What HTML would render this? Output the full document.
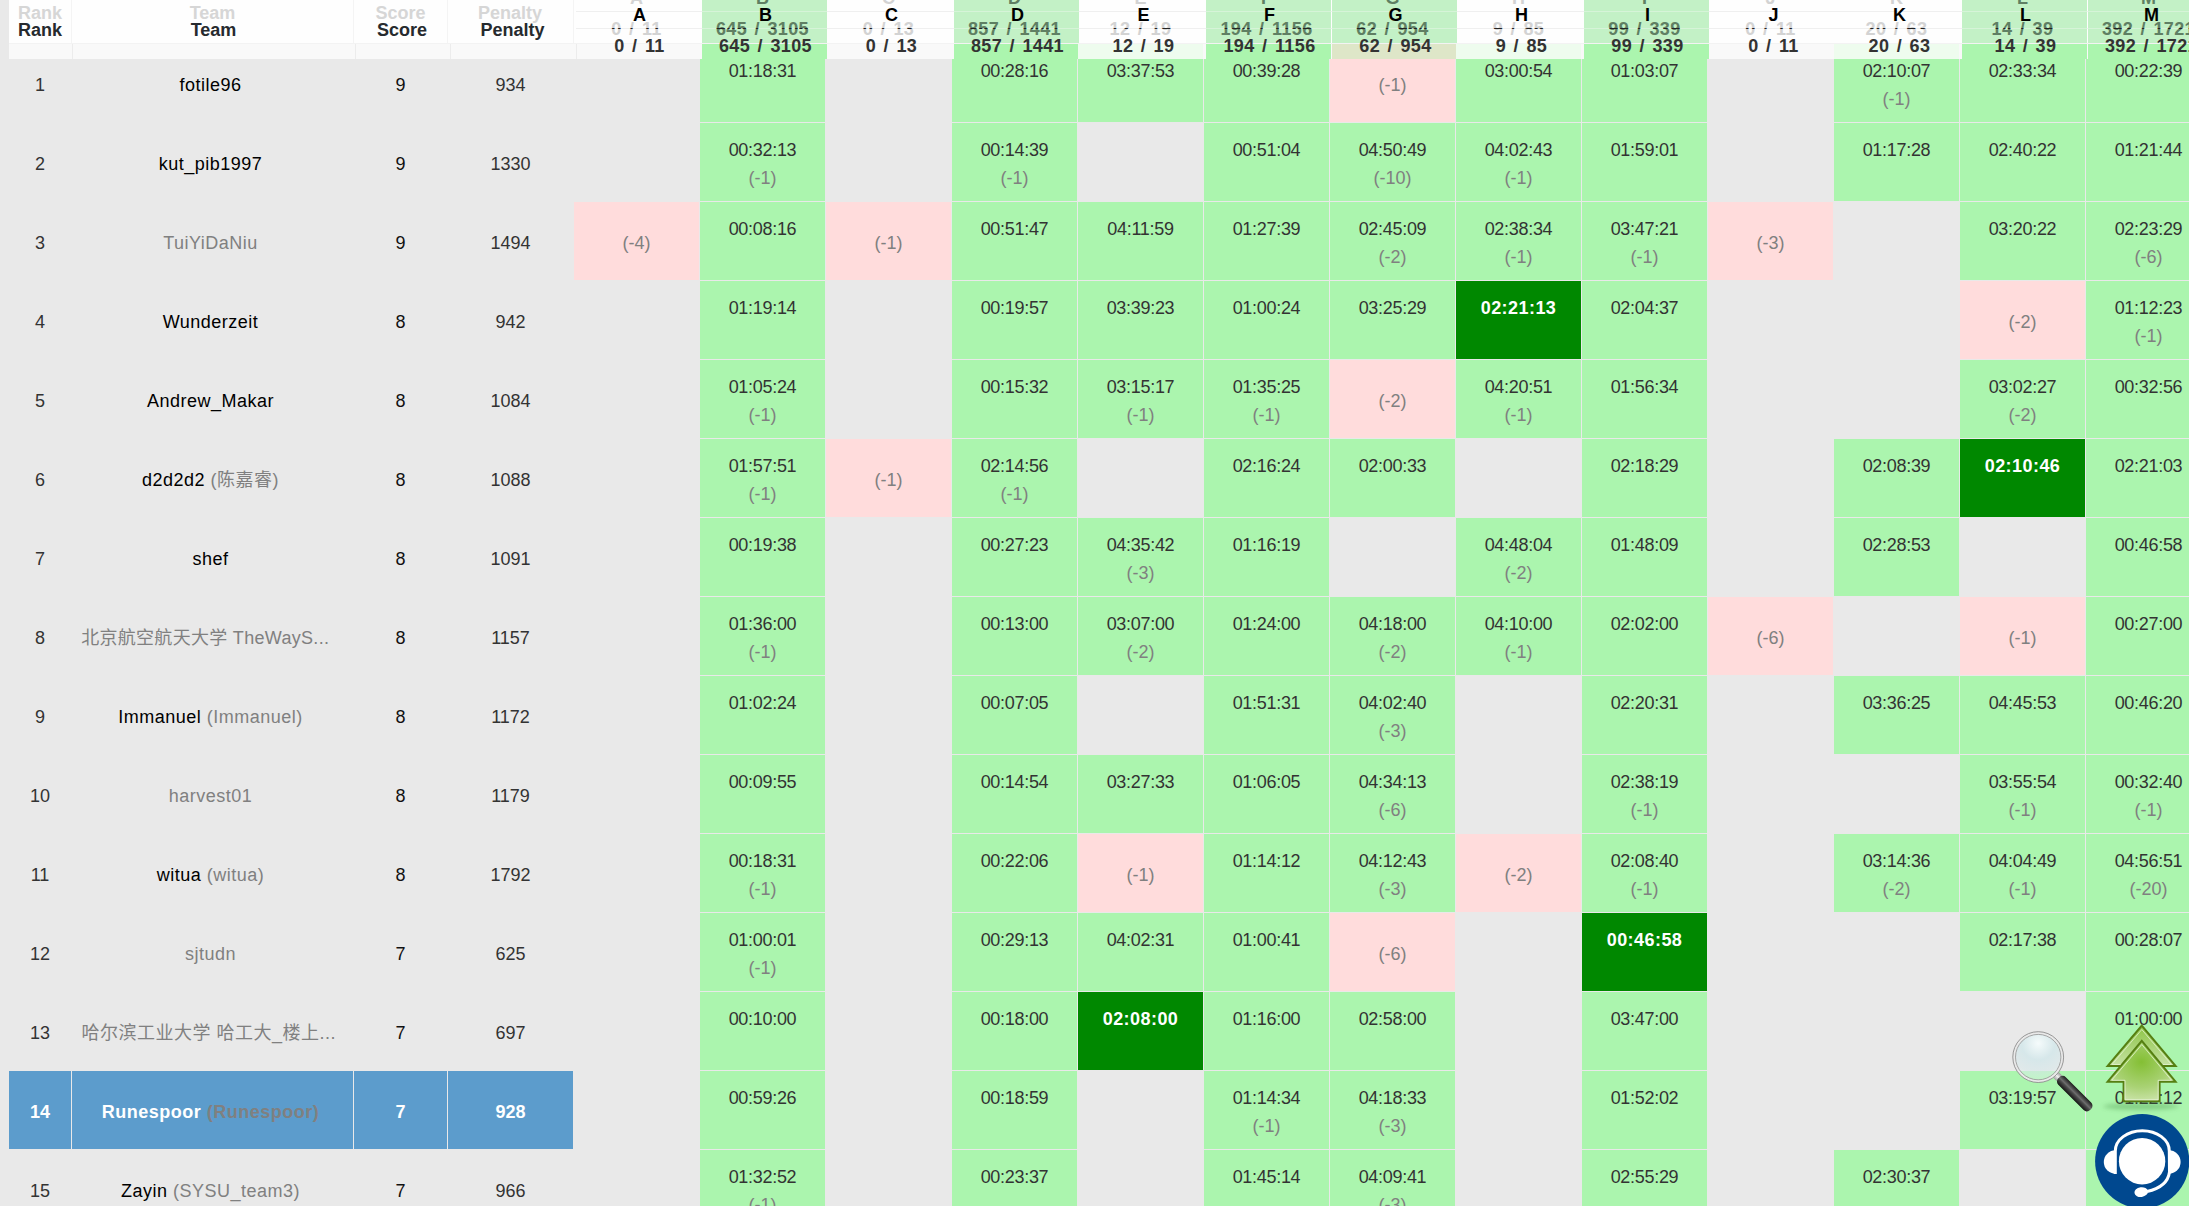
<!DOCTYPE html><html><head><meta charset="utf-8"><title>Rank</title><style>
*{box-sizing:border-box;margin:0;padding:0}
html,body{width:2189px;height:1206px;overflow:hidden}
body{position:relative;background:#e9e9e9;font-family:"Liberation Sans","Noto Sans CJK SC",sans-serif;font-size:18px;color:#212529}
.b{position:absolute}
.c{position:absolute;height:78px}
.t{position:absolute;left:0;right:0;text-align:center;white-space:nowrap;line-height:18px;height:18px}
.l1{top:18px;color:#333;letter-spacing:-0.3px}
.l2{top:46px;color:#808080}
.lc{top:32px;color:#808080}
.fb .l1{color:#fff;font-weight:bold;letter-spacing:0.45px}
.lm{top:32px}
.gr{color:#808080}
.hl .t{color:#fff;font-weight:bold}
.hl .gr{color:#808080}
.tm{letter-spacing:0.5px;margin-left:-4px}
.hc{word-spacing:2px;letter-spacing:0.4px}
.h{position:absolute;text-align:center;white-space:nowrap;font-weight:bold;line-height:18px;height:18px}
</style></head><body>
<div class="c" style="left:9px;top:44px;width:62px;"><div class="t lm" style="color:#333">1</div></div>
<div class="c" style="left:72px;top:44px;width:281px;"><div class="t lm tm" style="color:#000;">fotile96</div></div>
<div class="c" style="left:354px;top:44px;width:93px;"><div class="t lm" style="color:#111">9</div></div>
<div class="c" style="left:448px;top:44px;width:125px;"><div class="t lm" style="color:#333">934</div></div>
<div class="c " style="left:700px;top:44px;width:125px;background:#abf5ae"><div class="t l1">01:18:31</div></div>
<div class="c " style="left:952px;top:44px;width:125px;background:#abf5ae"><div class="t l1">00:28:16</div></div>
<div class="c " style="left:1078px;top:44px;width:125px;background:#abf5ae"><div class="t l1">03:37:53</div></div>
<div class="c " style="left:1204px;top:44px;width:125px;background:#abf5ae"><div class="t l1">00:39:28</div></div>
<div class="c" style="left:1330px;top:44px;width:125px;background:#ffdcdc"><div class="t lc">(-1)</div></div>
<div class="c " style="left:1456px;top:44px;width:125px;background:#abf5ae"><div class="t l1">03:00:54</div></div>
<div class="c " style="left:1582px;top:44px;width:125px;background:#abf5ae"><div class="t l1">01:03:07</div></div>
<div class="c " style="left:1834px;top:44px;width:125px;background:#abf5ae"><div class="t l1">02:10:07</div><div class="t l2">(-1)</div></div>
<div class="c " style="left:1960px;top:44px;width:125px;background:#abf5ae"><div class="t l1">02:33:34</div></div>
<div class="c " style="left:2086px;top:44px;width:125px;background:#abf5ae"><div class="t l1">00:22:39</div></div>
<div class="c" style="left:9px;top:123px;width:62px;"><div class="t lm" style="color:#333">2</div></div>
<div class="c" style="left:72px;top:123px;width:281px;"><div class="t lm tm" style="color:#000;">kut_pib1997</div></div>
<div class="c" style="left:354px;top:123px;width:93px;"><div class="t lm" style="color:#111">9</div></div>
<div class="c" style="left:448px;top:123px;width:125px;"><div class="t lm" style="color:#333">1330</div></div>
<div class="c " style="left:700px;top:123px;width:125px;background:#abf5ae"><div class="t l1">00:32:13</div><div class="t l2">(-1)</div></div>
<div class="c " style="left:952px;top:123px;width:125px;background:#abf5ae"><div class="t l1">00:14:39</div><div class="t l2">(-1)</div></div>
<div class="c " style="left:1204px;top:123px;width:125px;background:#abf5ae"><div class="t l1">00:51:04</div></div>
<div class="c " style="left:1330px;top:123px;width:125px;background:#abf5ae"><div class="t l1">04:50:49</div><div class="t l2">(-10)</div></div>
<div class="c " style="left:1456px;top:123px;width:125px;background:#abf5ae"><div class="t l1">04:02:43</div><div class="t l2">(-1)</div></div>
<div class="c " style="left:1582px;top:123px;width:125px;background:#abf5ae"><div class="t l1">01:59:01</div></div>
<div class="c " style="left:1834px;top:123px;width:125px;background:#abf5ae"><div class="t l1">01:17:28</div></div>
<div class="c " style="left:1960px;top:123px;width:125px;background:#abf5ae"><div class="t l1">02:40:22</div></div>
<div class="c " style="left:2086px;top:123px;width:125px;background:#abf5ae"><div class="t l1">01:21:44</div></div>
<div class="c" style="left:9px;top:202px;width:62px;"><div class="t lm" style="color:#333">3</div></div>
<div class="c" style="left:72px;top:202px;width:281px;"><div class="t lm tm" style="color:#000;"><span class="gr">TuiYiDaNiu</span></div></div>
<div class="c" style="left:354px;top:202px;width:93px;"><div class="t lm" style="color:#111">9</div></div>
<div class="c" style="left:448px;top:202px;width:125px;"><div class="t lm" style="color:#333">1494</div></div>
<div class="c" style="left:574px;top:202px;width:125px;background:#ffdcdc"><div class="t lc">(-4)</div></div>
<div class="c " style="left:700px;top:202px;width:125px;background:#abf5ae"><div class="t l1">00:08:16</div></div>
<div class="c" style="left:826px;top:202px;width:125px;background:#ffdcdc"><div class="t lc">(-1)</div></div>
<div class="c " style="left:952px;top:202px;width:125px;background:#abf5ae"><div class="t l1">00:51:47</div></div>
<div class="c " style="left:1078px;top:202px;width:125px;background:#abf5ae"><div class="t l1">04:11:59</div></div>
<div class="c " style="left:1204px;top:202px;width:125px;background:#abf5ae"><div class="t l1">01:27:39</div></div>
<div class="c " style="left:1330px;top:202px;width:125px;background:#abf5ae"><div class="t l1">02:45:09</div><div class="t l2">(-2)</div></div>
<div class="c " style="left:1456px;top:202px;width:125px;background:#abf5ae"><div class="t l1">02:38:34</div><div class="t l2">(-1)</div></div>
<div class="c " style="left:1582px;top:202px;width:125px;background:#abf5ae"><div class="t l1">03:47:21</div><div class="t l2">(-1)</div></div>
<div class="c" style="left:1708px;top:202px;width:125px;background:#ffdcdc"><div class="t lc">(-3)</div></div>
<div class="c " style="left:1960px;top:202px;width:125px;background:#abf5ae"><div class="t l1">03:20:22</div></div>
<div class="c " style="left:2086px;top:202px;width:125px;background:#abf5ae"><div class="t l1">02:23:29</div><div class="t l2">(-6)</div></div>
<div class="c" style="left:9px;top:281px;width:62px;"><div class="t lm" style="color:#333">4</div></div>
<div class="c" style="left:72px;top:281px;width:281px;"><div class="t lm tm" style="color:#000;">Wunderzeit</div></div>
<div class="c" style="left:354px;top:281px;width:93px;"><div class="t lm" style="color:#111">8</div></div>
<div class="c" style="left:448px;top:281px;width:125px;"><div class="t lm" style="color:#333">942</div></div>
<div class="c " style="left:700px;top:281px;width:125px;background:#abf5ae"><div class="t l1">01:19:14</div></div>
<div class="c " style="left:952px;top:281px;width:125px;background:#abf5ae"><div class="t l1">00:19:57</div></div>
<div class="c " style="left:1078px;top:281px;width:125px;background:#abf5ae"><div class="t l1">03:39:23</div></div>
<div class="c " style="left:1204px;top:281px;width:125px;background:#abf5ae"><div class="t l1">01:00:24</div></div>
<div class="c " style="left:1330px;top:281px;width:125px;background:#abf5ae"><div class="t l1">03:25:29</div></div>
<div class="c fb" style="left:1456px;top:281px;width:125px;background:#008800"><div class="t l1">02:21:13</div></div>
<div class="c " style="left:1582px;top:281px;width:125px;background:#abf5ae"><div class="t l1">02:04:37</div></div>
<div class="c" style="left:1960px;top:281px;width:125px;background:#ffdcdc"><div class="t lc">(-2)</div></div>
<div class="c " style="left:2086px;top:281px;width:125px;background:#abf5ae"><div class="t l1">01:12:23</div><div class="t l2">(-1)</div></div>
<div class="c" style="left:9px;top:360px;width:62px;"><div class="t lm" style="color:#333">5</div></div>
<div class="c" style="left:72px;top:360px;width:281px;"><div class="t lm tm" style="color:#000;">Andrew_Makar</div></div>
<div class="c" style="left:354px;top:360px;width:93px;"><div class="t lm" style="color:#111">8</div></div>
<div class="c" style="left:448px;top:360px;width:125px;"><div class="t lm" style="color:#333">1084</div></div>
<div class="c " style="left:700px;top:360px;width:125px;background:#abf5ae"><div class="t l1">01:05:24</div><div class="t l2">(-1)</div></div>
<div class="c " style="left:952px;top:360px;width:125px;background:#abf5ae"><div class="t l1">00:15:32</div></div>
<div class="c " style="left:1078px;top:360px;width:125px;background:#abf5ae"><div class="t l1">03:15:17</div><div class="t l2">(-1)</div></div>
<div class="c " style="left:1204px;top:360px;width:125px;background:#abf5ae"><div class="t l1">01:35:25</div><div class="t l2">(-1)</div></div>
<div class="c" style="left:1330px;top:360px;width:125px;background:#ffdcdc"><div class="t lc">(-2)</div></div>
<div class="c " style="left:1456px;top:360px;width:125px;background:#abf5ae"><div class="t l1">04:20:51</div><div class="t l2">(-1)</div></div>
<div class="c " style="left:1582px;top:360px;width:125px;background:#abf5ae"><div class="t l1">01:56:34</div></div>
<div class="c " style="left:1960px;top:360px;width:125px;background:#abf5ae"><div class="t l1">03:02:27</div><div class="t l2">(-2)</div></div>
<div class="c " style="left:2086px;top:360px;width:125px;background:#abf5ae"><div class="t l1">00:32:56</div></div>
<div class="c" style="left:9px;top:439px;width:62px;"><div class="t lm" style="color:#333">6</div></div>
<div class="c" style="left:72px;top:439px;width:281px;"><div class="t lm tm" style="color:#000;">d2d2d2 <span class="gr">(陈嘉睿)</span></div></div>
<div class="c" style="left:354px;top:439px;width:93px;"><div class="t lm" style="color:#111">8</div></div>
<div class="c" style="left:448px;top:439px;width:125px;"><div class="t lm" style="color:#333">1088</div></div>
<div class="c " style="left:700px;top:439px;width:125px;background:#abf5ae"><div class="t l1">01:57:51</div><div class="t l2">(-1)</div></div>
<div class="c" style="left:826px;top:439px;width:125px;background:#ffdcdc"><div class="t lc">(-1)</div></div>
<div class="c " style="left:952px;top:439px;width:125px;background:#abf5ae"><div class="t l1">02:14:56</div><div class="t l2">(-1)</div></div>
<div class="c " style="left:1204px;top:439px;width:125px;background:#abf5ae"><div class="t l1">02:16:24</div></div>
<div class="c " style="left:1330px;top:439px;width:125px;background:#abf5ae"><div class="t l1">02:00:33</div></div>
<div class="c " style="left:1582px;top:439px;width:125px;background:#abf5ae"><div class="t l1">02:18:29</div></div>
<div class="c " style="left:1834px;top:439px;width:125px;background:#abf5ae"><div class="t l1">02:08:39</div></div>
<div class="c fb" style="left:1960px;top:439px;width:125px;background:#008800"><div class="t l1">02:10:46</div></div>
<div class="c " style="left:2086px;top:439px;width:125px;background:#abf5ae"><div class="t l1">02:21:03</div></div>
<div class="c" style="left:9px;top:518px;width:62px;"><div class="t lm" style="color:#333">7</div></div>
<div class="c" style="left:72px;top:518px;width:281px;"><div class="t lm tm" style="color:#000;">shef</div></div>
<div class="c" style="left:354px;top:518px;width:93px;"><div class="t lm" style="color:#111">8</div></div>
<div class="c" style="left:448px;top:518px;width:125px;"><div class="t lm" style="color:#333">1091</div></div>
<div class="c " style="left:700px;top:518px;width:125px;background:#abf5ae"><div class="t l1">00:19:38</div></div>
<div class="c " style="left:952px;top:518px;width:125px;background:#abf5ae"><div class="t l1">00:27:23</div></div>
<div class="c " style="left:1078px;top:518px;width:125px;background:#abf5ae"><div class="t l1">04:35:42</div><div class="t l2">(-3)</div></div>
<div class="c " style="left:1204px;top:518px;width:125px;background:#abf5ae"><div class="t l1">01:16:19</div></div>
<div class="c " style="left:1456px;top:518px;width:125px;background:#abf5ae"><div class="t l1">04:48:04</div><div class="t l2">(-2)</div></div>
<div class="c " style="left:1582px;top:518px;width:125px;background:#abf5ae"><div class="t l1">01:48:09</div></div>
<div class="c " style="left:1834px;top:518px;width:125px;background:#abf5ae"><div class="t l1">02:28:53</div></div>
<div class="c " style="left:2086px;top:518px;width:125px;background:#abf5ae"><div class="t l1">00:46:58</div></div>
<div class="c" style="left:9px;top:597px;width:62px;"><div class="t lm" style="color:#333">8</div></div>
<div class="c" style="left:72px;top:597px;width:281px;"><div class="t lm tm" style="color:#000;letter-spacing:0.3px;margin-left:-14.6px;"><span class="gr">北京航空航天大学 TheWayS...</span></div></div>
<div class="c" style="left:354px;top:597px;width:93px;"><div class="t lm" style="color:#111">8</div></div>
<div class="c" style="left:448px;top:597px;width:125px;"><div class="t lm" style="color:#333">1157</div></div>
<div class="c " style="left:700px;top:597px;width:125px;background:#abf5ae"><div class="t l1">01:36:00</div><div class="t l2">(-1)</div></div>
<div class="c " style="left:952px;top:597px;width:125px;background:#abf5ae"><div class="t l1">00:13:00</div></div>
<div class="c " style="left:1078px;top:597px;width:125px;background:#abf5ae"><div class="t l1">03:07:00</div><div class="t l2">(-2)</div></div>
<div class="c " style="left:1204px;top:597px;width:125px;background:#abf5ae"><div class="t l1">01:24:00</div></div>
<div class="c " style="left:1330px;top:597px;width:125px;background:#abf5ae"><div class="t l1">04:18:00</div><div class="t l2">(-2)</div></div>
<div class="c " style="left:1456px;top:597px;width:125px;background:#abf5ae"><div class="t l1">04:10:00</div><div class="t l2">(-1)</div></div>
<div class="c " style="left:1582px;top:597px;width:125px;background:#abf5ae"><div class="t l1">02:02:00</div></div>
<div class="c" style="left:1708px;top:597px;width:125px;background:#ffdcdc"><div class="t lc">(-6)</div></div>
<div class="c" style="left:1960px;top:597px;width:125px;background:#ffdcdc"><div class="t lc">(-1)</div></div>
<div class="c " style="left:2086px;top:597px;width:125px;background:#abf5ae"><div class="t l1">00:27:00</div></div>
<div class="c" style="left:9px;top:676px;width:62px;"><div class="t lm" style="color:#333">9</div></div>
<div class="c" style="left:72px;top:676px;width:281px;"><div class="t lm tm" style="color:#000;">Immanuel <span class="gr">(Immanuel)</span></div></div>
<div class="c" style="left:354px;top:676px;width:93px;"><div class="t lm" style="color:#111">8</div></div>
<div class="c" style="left:448px;top:676px;width:125px;"><div class="t lm" style="color:#333">1172</div></div>
<div class="c " style="left:700px;top:676px;width:125px;background:#abf5ae"><div class="t l1">01:02:24</div></div>
<div class="c " style="left:952px;top:676px;width:125px;background:#abf5ae"><div class="t l1">00:07:05</div></div>
<div class="c " style="left:1204px;top:676px;width:125px;background:#abf5ae"><div class="t l1">01:51:31</div></div>
<div class="c " style="left:1330px;top:676px;width:125px;background:#abf5ae"><div class="t l1">04:02:40</div><div class="t l2">(-3)</div></div>
<div class="c " style="left:1582px;top:676px;width:125px;background:#abf5ae"><div class="t l1">02:20:31</div></div>
<div class="c " style="left:1834px;top:676px;width:125px;background:#abf5ae"><div class="t l1">03:36:25</div></div>
<div class="c " style="left:1960px;top:676px;width:125px;background:#abf5ae"><div class="t l1">04:45:53</div></div>
<div class="c " style="left:2086px;top:676px;width:125px;background:#abf5ae"><div class="t l1">00:46:20</div></div>
<div class="c" style="left:9px;top:755px;width:62px;"><div class="t lm" style="color:#333">10</div></div>
<div class="c" style="left:72px;top:755px;width:281px;"><div class="t lm tm" style="color:#000;"><span class="gr">harvest01</span></div></div>
<div class="c" style="left:354px;top:755px;width:93px;"><div class="t lm" style="color:#111">8</div></div>
<div class="c" style="left:448px;top:755px;width:125px;"><div class="t lm" style="color:#333">1179</div></div>
<div class="c " style="left:700px;top:755px;width:125px;background:#abf5ae"><div class="t l1">00:09:55</div></div>
<div class="c " style="left:952px;top:755px;width:125px;background:#abf5ae"><div class="t l1">00:14:54</div></div>
<div class="c " style="left:1078px;top:755px;width:125px;background:#abf5ae"><div class="t l1">03:27:33</div></div>
<div class="c " style="left:1204px;top:755px;width:125px;background:#abf5ae"><div class="t l1">01:06:05</div></div>
<div class="c " style="left:1330px;top:755px;width:125px;background:#abf5ae"><div class="t l1">04:34:13</div><div class="t l2">(-6)</div></div>
<div class="c " style="left:1582px;top:755px;width:125px;background:#abf5ae"><div class="t l1">02:38:19</div><div class="t l2">(-1)</div></div>
<div class="c " style="left:1960px;top:755px;width:125px;background:#abf5ae"><div class="t l1">03:55:54</div><div class="t l2">(-1)</div></div>
<div class="c " style="left:2086px;top:755px;width:125px;background:#abf5ae"><div class="t l1">00:32:40</div><div class="t l2">(-1)</div></div>
<div class="c" style="left:9px;top:834px;width:62px;"><div class="t lm" style="color:#333">11</div></div>
<div class="c" style="left:72px;top:834px;width:281px;"><div class="t lm tm" style="color:#000;">witua <span class="gr">(witua)</span></div></div>
<div class="c" style="left:354px;top:834px;width:93px;"><div class="t lm" style="color:#111">8</div></div>
<div class="c" style="left:448px;top:834px;width:125px;"><div class="t lm" style="color:#333">1792</div></div>
<div class="c " style="left:700px;top:834px;width:125px;background:#abf5ae"><div class="t l1">00:18:31</div><div class="t l2">(-1)</div></div>
<div class="c " style="left:952px;top:834px;width:125px;background:#abf5ae"><div class="t l1">00:22:06</div></div>
<div class="c" style="left:1078px;top:834px;width:125px;background:#ffdcdc"><div class="t lc">(-1)</div></div>
<div class="c " style="left:1204px;top:834px;width:125px;background:#abf5ae"><div class="t l1">01:14:12</div></div>
<div class="c " style="left:1330px;top:834px;width:125px;background:#abf5ae"><div class="t l1">04:12:43</div><div class="t l2">(-3)</div></div>
<div class="c" style="left:1456px;top:834px;width:125px;background:#ffdcdc"><div class="t lc">(-2)</div></div>
<div class="c " style="left:1582px;top:834px;width:125px;background:#abf5ae"><div class="t l1">02:08:40</div><div class="t l2">(-1)</div></div>
<div class="c " style="left:1834px;top:834px;width:125px;background:#abf5ae"><div class="t l1">03:14:36</div><div class="t l2">(-2)</div></div>
<div class="c " style="left:1960px;top:834px;width:125px;background:#abf5ae"><div class="t l1">04:04:49</div><div class="t l2">(-1)</div></div>
<div class="c " style="left:2086px;top:834px;width:125px;background:#abf5ae"><div class="t l1">04:56:51</div><div class="t l2">(-20)</div></div>
<div class="c" style="left:9px;top:913px;width:62px;"><div class="t lm" style="color:#333">12</div></div>
<div class="c" style="left:72px;top:913px;width:281px;"><div class="t lm tm" style="color:#000;"><span class="gr">sjtudn</span></div></div>
<div class="c" style="left:354px;top:913px;width:93px;"><div class="t lm" style="color:#111">7</div></div>
<div class="c" style="left:448px;top:913px;width:125px;"><div class="t lm" style="color:#333">625</div></div>
<div class="c " style="left:700px;top:913px;width:125px;background:#abf5ae"><div class="t l1">01:00:01</div><div class="t l2">(-1)</div></div>
<div class="c " style="left:952px;top:913px;width:125px;background:#abf5ae"><div class="t l1">00:29:13</div></div>
<div class="c " style="left:1078px;top:913px;width:125px;background:#abf5ae"><div class="t l1">04:02:31</div></div>
<div class="c " style="left:1204px;top:913px;width:125px;background:#abf5ae"><div class="t l1">01:00:41</div></div>
<div class="c" style="left:1330px;top:913px;width:125px;background:#ffdcdc"><div class="t lc">(-6)</div></div>
<div class="c fb" style="left:1582px;top:913px;width:125px;background:#008800"><div class="t l1">00:46:58</div></div>
<div class="c " style="left:1960px;top:913px;width:125px;background:#abf5ae"><div class="t l1">02:17:38</div></div>
<div class="c " style="left:2086px;top:913px;width:125px;background:#abf5ae"><div class="t l1">00:28:07</div></div>
<div class="c" style="left:9px;top:992px;width:62px;"><div class="t lm" style="color:#333">13</div></div>
<div class="c" style="left:72px;top:992px;width:281px;"><div class="t lm tm" style="color:#000;margin-left:-7.6px;"><span class="gr">哈尔滨工业大学 哈工大_楼上...</span></div></div>
<div class="c" style="left:354px;top:992px;width:93px;"><div class="t lm" style="color:#111">7</div></div>
<div class="c" style="left:448px;top:992px;width:125px;"><div class="t lm" style="color:#333">697</div></div>
<div class="c " style="left:700px;top:992px;width:125px;background:#abf5ae"><div class="t l1">00:10:00</div></div>
<div class="c " style="left:952px;top:992px;width:125px;background:#abf5ae"><div class="t l1">00:18:00</div></div>
<div class="c fb" style="left:1078px;top:992px;width:125px;background:#008800"><div class="t l1">02:08:00</div></div>
<div class="c " style="left:1204px;top:992px;width:125px;background:#abf5ae"><div class="t l1">01:16:00</div></div>
<div class="c " style="left:1330px;top:992px;width:125px;background:#abf5ae"><div class="t l1">02:58:00</div></div>
<div class="c " style="left:1582px;top:992px;width:125px;background:#abf5ae"><div class="t l1">03:47:00</div></div>
<div class="c " style="left:2086px;top:992px;width:125px;background:#abf5ae"><div class="t l1">01:00:00</div></div>
<div class="c hl" style="left:9px;top:1071px;width:62px;background:#5c9ccc;"><div class="t lm" style="color:#fff">14</div></div>
<div class="c hl" style="left:72px;top:1071px;width:281px;background:#5c9ccc;"><div class="t lm tm" style="color:#fff;">Runespoor <span class="gr">(Runespoor)</span></div></div>
<div class="c hl" style="left:354px;top:1071px;width:93px;background:#5c9ccc;"><div class="t lm" style="color:#fff">7</div></div>
<div class="c hl" style="left:448px;top:1071px;width:125px;background:#5c9ccc;"><div class="t lm" style="color:#fff">928</div></div>
<div class="c " style="left:700px;top:1071px;width:125px;background:#abf5ae"><div class="t l1">00:59:26</div></div>
<div class="c " style="left:952px;top:1071px;width:125px;background:#abf5ae"><div class="t l1">00:18:59</div></div>
<div class="c " style="left:1204px;top:1071px;width:125px;background:#abf5ae"><div class="t l1">01:14:34</div><div class="t l2">(-1)</div></div>
<div class="c " style="left:1330px;top:1071px;width:125px;background:#abf5ae"><div class="t l1">04:18:33</div><div class="t l2">(-3)</div></div>
<div class="c " style="left:1582px;top:1071px;width:125px;background:#abf5ae"><div class="t l1">01:52:02</div></div>
<div class="c " style="left:1960px;top:1071px;width:125px;background:#abf5ae"><div class="t l1">03:19:57</div></div>
<div class="c " style="left:2086px;top:1071px;width:125px;background:#abf5ae"><div class="t l1">01:22:12</div></div>
<div class="c" style="left:9px;top:1150px;width:62px;"><div class="t lm" style="color:#333">15</div></div>
<div class="c" style="left:72px;top:1150px;width:281px;"><div class="t lm tm" style="color:#000;">Zayin <span class="gr">(SYSU_team3)</span></div></div>
<div class="c" style="left:354px;top:1150px;width:93px;"><div class="t lm" style="color:#111">7</div></div>
<div class="c" style="left:448px;top:1150px;width:125px;"><div class="t lm" style="color:#333">966</div></div>
<div class="c " style="left:700px;top:1150px;width:125px;background:#abf5ae"><div class="t l1">01:32:52</div><div class="t l2">(-1)</div></div>
<div class="c " style="left:952px;top:1150px;width:125px;background:#abf5ae"><div class="t l1">00:23:37</div></div>
<div class="c " style="left:1204px;top:1150px;width:125px;background:#abf5ae"><div class="t l1">01:45:14</div></div>
<div class="c " style="left:1330px;top:1150px;width:125px;background:#abf5ae"><div class="t l1">04:09:41</div><div class="t l2">(-3)</div></div>
<div class="c " style="left:1582px;top:1150px;width:125px;background:#abf5ae"><div class="t l1">02:55:29</div></div>
<div class="c " style="left:1834px;top:1150px;width:125px;background:#abf5ae"><div class="t l1">02:30:37</div></div>
<div class="c " style="left:2086px;top:1150px;width:125px;background:#abf5ae"><div class="t l1">02:41:05</div></div>
<div class="b" style="left:9px;top:0;width:2180px;height:43px;background:#fefefe"></div>
<div class="b" style="left:702px;top:0;width:125px;height:43px;background:#c3f1c6"></div>
<div class="b" style="left:954px;top:0;width:125px;height:43px;background:#c3f1c6"></div>
<div class="b" style="left:1206px;top:0;width:125px;height:43px;background:#c3f1c6"></div>
<div class="b" style="left:1332px;top:0;width:125px;height:43px;background:#c3f1c6"></div>
<div class="b" style="left:1584px;top:0;width:125px;height:43px;background:#c3f1c6"></div>
<div class="b" style="left:1962px;top:0;width:125px;height:43px;background:#c3f1c6"></div>
<div class="b" style="left:2088px;top:0;width:125px;height:43px;background:#c3f1c6"></div>
<div class="b" style="left:9px;top:43px;width:2180px;height:1px;background:#f3f3f3"></div>
<div class="b" style="left:9px;top:44px;width:2180px;height:15px;background:#f9f9f9"></div>
<div class="b" style="left:702px;top:44px;width:125px;height:15px;background:#abf5ae"></div>
<div class="b" style="left:954px;top:44px;width:125px;height:15px;background:#abf5ae"></div>
<div class="b" style="left:1078px;top:44px;width:125px;height:15px;background:#eefcee"></div>
<div class="b" style="left:1206px;top:44px;width:125px;height:15px;background:#abf5ae"></div>
<div class="b" style="left:1332px;top:44px;width:125px;height:15px;background:#dee6c8"></div>
<div class="b" style="left:1456px;top:44px;width:125px;height:15px;background:#eefcee"></div>
<div class="b" style="left:1584px;top:44px;width:125px;height:15px;background:#abf5ae"></div>
<div class="b" style="left:1834px;top:44px;width:125px;height:15px;background:#eefcee"></div>
<div class="b" style="left:1962px;top:44px;width:125px;height:15px;background:#abf5ae"></div>
<div class="b" style="left:2088px;top:44px;width:125px;height:15px;background:#abf5ae"></div>
<div class="b" style="left:576px;top:11px;width:1613px;height:1px;background:#efefef"></div>
<div class="b" style="left:702px;top:11px;width:125px;height:1px;background:#d6f4d8"></div>
<div class="b" style="left:954px;top:11px;width:125px;height:1px;background:#d6f4d8"></div>
<div class="b" style="left:1206px;top:11px;width:125px;height:1px;background:#d6f4d8"></div>
<div class="b" style="left:1332px;top:11px;width:125px;height:1px;background:#d6f4d8"></div>
<div class="b" style="left:1584px;top:11px;width:125px;height:1px;background:#d6f4d8"></div>
<div class="b" style="left:1962px;top:11px;width:125px;height:1px;background:#d6f4d8"></div>
<div class="b" style="left:2088px;top:11px;width:125px;height:1px;background:#d6f4d8"></div>
<div class="b" style="left:576px;top:28px;width:1613px;height:1px;background:#efefef"></div>
<div class="b" style="left:702px;top:28px;width:125px;height:1px;background:#d6f4d8"></div>
<div class="b" style="left:954px;top:28px;width:125px;height:1px;background:#d6f4d8"></div>
<div class="b" style="left:1206px;top:28px;width:125px;height:1px;background:#d6f4d8"></div>
<div class="b" style="left:1332px;top:28px;width:125px;height:1px;background:#d6f4d8"></div>
<div class="b" style="left:1584px;top:28px;width:125px;height:1px;background:#d6f4d8"></div>
<div class="b" style="left:1962px;top:28px;width:125px;height:1px;background:#d6f4d8"></div>
<div class="b" style="left:2088px;top:28px;width:125px;height:1px;background:#d6f4d8"></div>
<div class="b" style="left:71px;top:0;width:1px;height:43px;background:#f4f4f4"></div>
<div class="b" style="left:353px;top:0;width:1px;height:43px;background:#f4f4f4"></div>
<div class="b" style="left:447px;top:0;width:1px;height:43px;background:#f4f4f4"></div>
<div class="b" style="left:573px;top:0;width:1px;height:43px;background:#f4f4f4"></div>
<div class="b" style="left:72px;top:44px;width:1px;height:15px;background:#ececec"></div>
<div class="b" style="left:355px;top:44px;width:1px;height:15px;background:#ececec"></div>
<div class="b" style="left:450px;top:44px;width:1px;height:15px;background:#ececec"></div>
<div class="b" style="left:576px;top:44px;width:1px;height:15px;background:#ececec"></div>
<div class="h " style="left:-60.0px;width:200px;top:4px;color:#d6d6d6;font-size:18px;font-weight:bold">Rank</div>
<div class="h " style="left:-60.0px;width:200px;top:21px;color:#262a2e;font-size:18px;font-weight:bold">Rank</div>
<div class="h " style="left:112.5px;width:200px;top:4px;color:#d6d6d6;font-size:18px;font-weight:bold">Team</div>
<div class="h " style="left:113.5px;width:200px;top:21px;color:#262a2e;font-size:18px;font-weight:bold">Team</div>
<div class="h " style="left:300.5px;width:200px;top:4px;color:#d6d6d6;font-size:18px;font-weight:bold">Score</div>
<div class="h " style="left:302.0px;width:200px;top:21px;color:#262a2e;font-size:18px;font-weight:bold">Score</div>
<div class="h " style="left:410.0px;width:200px;top:4px;color:#d6d6d6;font-size:18px;font-weight:bold">Penalty</div>
<div class="h " style="left:412.5px;width:200px;top:21px;color:#262a2e;font-size:18px;font-weight:bold">Penalty</div>
<div class="h " style="left:536.5px;width:200px;top:-11px;color:#d3d3d3;font-size:18px;font-weight:bold">A</div>
<div class="h hc" style="left:536.5px;width:200px;top:20px;color:#d3d3d3;font-size:18px;font-weight:bold">0 / 11</div>
<div class="h " style="left:662.5px;width:200px;top:-11px;color:#5f7f63;font-size:18px;font-weight:bold">B</div>
<div class="h hc" style="left:662.5px;width:200px;top:20px;color:#5f7f63;font-size:18px;font-weight:bold">645 / 3105</div>
<div class="h " style="left:788.5px;width:200px;top:-11px;color:#d3d3d3;font-size:18px;font-weight:bold">C</div>
<div class="h hc" style="left:788.5px;width:200px;top:20px;color:#d3d3d3;font-size:18px;font-weight:bold">0 / 13</div>
<div class="h " style="left:914.5px;width:200px;top:-11px;color:#5f7f63;font-size:18px;font-weight:bold">D</div>
<div class="h hc" style="left:914.5px;width:200px;top:20px;color:#5f7f63;font-size:18px;font-weight:bold">857 / 1441</div>
<div class="h " style="left:1040.5px;width:200px;top:-11px;color:#d3d3d3;font-size:18px;font-weight:bold">E</div>
<div class="h hc" style="left:1040.5px;width:200px;top:20px;color:#d3d3d3;font-size:18px;font-weight:bold">12 / 19</div>
<div class="h " style="left:1166.5px;width:200px;top:-11px;color:#5f7f63;font-size:18px;font-weight:bold">F</div>
<div class="h hc" style="left:1166.5px;width:200px;top:20px;color:#5f7f63;font-size:18px;font-weight:bold">194 / 1156</div>
<div class="h " style="left:1292.5px;width:200px;top:-11px;color:#5f7f63;font-size:18px;font-weight:bold">G</div>
<div class="h hc" style="left:1292.5px;width:200px;top:20px;color:#5f7f63;font-size:18px;font-weight:bold">62 / 954</div>
<div class="h " style="left:1418.5px;width:200px;top:-11px;color:#d3d3d3;font-size:18px;font-weight:bold">H</div>
<div class="h hc" style="left:1418.5px;width:200px;top:20px;color:#d3d3d3;font-size:18px;font-weight:bold">9 / 85</div>
<div class="h " style="left:1544.5px;width:200px;top:-11px;color:#5f7f63;font-size:18px;font-weight:bold">I</div>
<div class="h hc" style="left:1544.5px;width:200px;top:20px;color:#5f7f63;font-size:18px;font-weight:bold">99 / 339</div>
<div class="h " style="left:1670.5px;width:200px;top:-11px;color:#d3d3d3;font-size:18px;font-weight:bold">J</div>
<div class="h hc" style="left:1670.5px;width:200px;top:20px;color:#d3d3d3;font-size:18px;font-weight:bold">0 / 11</div>
<div class="h " style="left:1796.5px;width:200px;top:-11px;color:#d3d3d3;font-size:18px;font-weight:bold">K</div>
<div class="h hc" style="left:1796.5px;width:200px;top:20px;color:#d3d3d3;font-size:18px;font-weight:bold">20 / 63</div>
<div class="h " style="left:1922.5px;width:200px;top:-11px;color:#5f7f63;font-size:18px;font-weight:bold">L</div>
<div class="h hc" style="left:1922.5px;width:200px;top:20px;color:#5f7f63;font-size:18px;font-weight:bold">14 / 39</div>
<div class="h " style="left:2048.5px;width:200px;top:-11px;color:#5f7f63;font-size:18px;font-weight:bold">M</div>
<div class="h hc" style="left:2048.5px;width:200px;top:20px;color:#5f7f63;font-size:18px;font-weight:bold">392 / 1721</div>
<div class="b" style="left:0;top:28px;width:2189px;height:1px;overflow:hidden">
<div class="h hc" style="left:536.5px;width:200px;top:-8px;color:#222;font-size:18px">0 / 11</div>
<div class="h hc" style="left:662.5px;width:200px;top:-8px;color:#222;font-size:18px">645 / 3105</div>
<div class="h hc" style="left:788.5px;width:200px;top:-8px;color:#222;font-size:18px">0 / 13</div>
<div class="h hc" style="left:914.5px;width:200px;top:-8px;color:#222;font-size:18px">857 / 1441</div>
<div class="h hc" style="left:1040.5px;width:200px;top:-8px;color:#222;font-size:18px">12 / 19</div>
<div class="h hc" style="left:1166.5px;width:200px;top:-8px;color:#222;font-size:18px">194 / 1156</div>
<div class="h hc" style="left:1292.5px;width:200px;top:-8px;color:#222;font-size:18px">62 / 954</div>
<div class="h hc" style="left:1418.5px;width:200px;top:-8px;color:#222;font-size:18px">9 / 85</div>
<div class="h hc" style="left:1544.5px;width:200px;top:-8px;color:#222;font-size:18px">99 / 339</div>
<div class="h hc" style="left:1670.5px;width:200px;top:-8px;color:#222;font-size:18px">0 / 11</div>
<div class="h hc" style="left:1796.5px;width:200px;top:-8px;color:#222;font-size:18px">20 / 63</div>
<div class="h hc" style="left:1922.5px;width:200px;top:-8px;color:#222;font-size:18px">14 / 39</div>
<div class="h hc" style="left:2048.5px;width:200px;top:-8px;color:#222;font-size:18px">392 / 1721</div>
</div>
<div class="h " style="left:539.5px;width:200px;top:6px;color:#000;font-size:18px;font-weight:bold">A</div>
<div class="h hc" style="left:539.5px;width:200px;top:37px;color:#333;font-size:18px;font-weight:bold">0 / 11</div>
<div class="h " style="left:665.5px;width:200px;top:6px;color:#000;font-size:18px;font-weight:bold">B</div>
<div class="h hc" style="left:665.5px;width:200px;top:37px;color:#333;font-size:18px;font-weight:bold">645 / 3105</div>
<div class="h " style="left:791.5px;width:200px;top:6px;color:#000;font-size:18px;font-weight:bold">C</div>
<div class="h hc" style="left:791.5px;width:200px;top:37px;color:#333;font-size:18px;font-weight:bold">0 / 13</div>
<div class="h " style="left:917.5px;width:200px;top:6px;color:#000;font-size:18px;font-weight:bold">D</div>
<div class="h hc" style="left:917.5px;width:200px;top:37px;color:#333;font-size:18px;font-weight:bold">857 / 1441</div>
<div class="h " style="left:1043.5px;width:200px;top:6px;color:#000;font-size:18px;font-weight:bold">E</div>
<div class="h hc" style="left:1043.5px;width:200px;top:37px;color:#333;font-size:18px;font-weight:bold">12 / 19</div>
<div class="h " style="left:1169.5px;width:200px;top:6px;color:#000;font-size:18px;font-weight:bold">F</div>
<div class="h hc" style="left:1169.5px;width:200px;top:37px;color:#333;font-size:18px;font-weight:bold">194 / 1156</div>
<div class="h " style="left:1295.5px;width:200px;top:6px;color:#000;font-size:18px;font-weight:bold">G</div>
<div class="h hc" style="left:1295.5px;width:200px;top:37px;color:#333;font-size:18px;font-weight:bold">62 / 954</div>
<div class="h " style="left:1421.5px;width:200px;top:6px;color:#000;font-size:18px;font-weight:bold">H</div>
<div class="h hc" style="left:1421.5px;width:200px;top:37px;color:#333;font-size:18px;font-weight:bold">9 / 85</div>
<div class="h " style="left:1547.5px;width:200px;top:6px;color:#000;font-size:18px;font-weight:bold">I</div>
<div class="h hc" style="left:1547.5px;width:200px;top:37px;color:#333;font-size:18px;font-weight:bold">99 / 339</div>
<div class="h " style="left:1673.5px;width:200px;top:6px;color:#000;font-size:18px;font-weight:bold">J</div>
<div class="h hc" style="left:1673.5px;width:200px;top:37px;color:#333;font-size:18px;font-weight:bold">0 / 11</div>
<div class="h " style="left:1799.5px;width:200px;top:6px;color:#000;font-size:18px;font-weight:bold">K</div>
<div class="h hc" style="left:1799.5px;width:200px;top:37px;color:#333;font-size:18px;font-weight:bold">20 / 63</div>
<div class="h " style="left:1925.5px;width:200px;top:6px;color:#000;font-size:18px;font-weight:bold">L</div>
<div class="h hc" style="left:1925.5px;width:200px;top:37px;color:#333;font-size:18px;font-weight:bold">14 / 39</div>
<div class="h " style="left:2051.5px;width:200px;top:6px;color:#000;font-size:18px;font-weight:bold">M</div>
<div class="h hc" style="left:2051.5px;width:200px;top:37px;color:#333;font-size:18px;font-weight:bold">392 / 1721</div>

<svg class="b" style="left:2000px;top:1015px" width="189" height="191" viewBox="2000 1015 189 191">
<defs>
<radialGradient id="gl" cx="0.5" cy="0.2" r="0.8">
<stop offset="0" stop-color="#f6fcfc" stop-opacity="0.97"/>
<stop offset="0.45" stop-color="#d4e7ea" stop-opacity="0.9"/>
<stop offset="0.8" stop-color="#d8e8ea" stop-opacity="0.6"/>
<stop offset="1" stop-color="#e6f2f2" stop-opacity="0.35"/>
</radialGradient>
<linearGradient id="rg" x1="0" y1="0" x2="1" y2="1">
<stop offset="0" stop-color="#e8e8e8"/>
<stop offset="0.5" stop-color="#a8a8a8"/>
<stop offset="1" stop-color="#d0d0d0"/>
</linearGradient>
<radialGradient id="ag" cx="0.5" cy="0.35" r="0.7">
<stop offset="0" stop-color="#84bf34"/>
<stop offset="0.6" stop-color="#a9d274"/>
<stop offset="1" stop-color="#cfe6b0"/>
</radialGradient>
<linearGradient id="ag2" x1="0" y1="0" x2="0" y2="1">
<stop offset="0" stop-color="#8cc444"/>
<stop offset="1" stop-color="#c6e2a4"/>
</linearGradient>
<filter id="bl" x="-0.5" y="-2" width="2" height="5"><feGaussianBlur stdDeviation="2.2"/></filter>
</defs>
<linearGradient id="hg" x1="0" y1="0" x2="0" y2="1">
<stop offset="0" stop-color="#1c1c1c"/>
<stop offset="0.45" stop-color="#6e6e6e"/>
<stop offset="0.6" stop-color="#4a4a4a"/>
<stop offset="1" stop-color="#151515"/>
</linearGradient>
<linearGradient id="fg" x1="0" y1="0" x2="0" y2="1">
<stop offset="0" stop-color="#9a9a9a"/>
<stop offset="0.5" stop-color="#f0f0f0"/>
<stop offset="1" stop-color="#a0a0a0"/>
</linearGradient>
<g transform="rotate(45 2038.2 1057.1)">
<rect x="2063.4" y="1053.2" width="4.6" height="7.8" fill="url(#fg)"/>
<rect x="2067.4" y="1051.8" width="44.9" height="10.6" rx="4.5" fill="url(#hg)"/>
</g>
<circle cx="2038.2" cy="1057.1" r="23" fill="url(#gl)"/>
<circle cx="2038.2" cy="1057.1" r="24.1" fill="none" stroke="#e9e9e9" stroke-width="2.6"/>
<circle cx="2038.2" cy="1057.1" r="25.4" fill="none" stroke="#8c8c8c" stroke-width="0.9"/>
<circle cx="2038.2" cy="1057.1" r="22.7" fill="none" stroke="#9c9c9c" stroke-width="0.9"/>
<ellipse cx="2141" cy="1106.5" rx="38" ry="3.5" fill="#3d8a3d" opacity="0.35" filter="url(#bl)"/>
<path d="M2141.8,1025.6 L2175.6,1066 L2107.6,1066 Z" fill="url(#ag2)" stroke="#567f12" stroke-width="2" stroke-linejoin="miter"/>
<path d="M2141.8,1029.5 L2171.4,1064.5 L2112,1064.5 Z" fill="none" stroke="#e4f2d0" stroke-width="1" opacity="0.8"/>
<path d="M2141.8,1040.8 L2175.6,1081.7 L2159.6,1081.7 L2159.6,1101.2 L2123.6,1101.2 L2123.6,1081.7 L2107.6,1081.7 Z" fill="url(#ag)" stroke="#567f12" stroke-width="2" stroke-linejoin="miter"/>
<path d="M2141.8,1044.5 L2171.6,1080.3 L2158.2,1080.3 L2158.2,1099.8 L2125,1099.8 L2125,1080.3 L2111.6,1080.3 Z" fill="none" stroke="#e8f4da" stroke-width="1" opacity="0.8"/>
<circle cx="2142.2" cy="1161.2" r="47.1" fill="#00488f"/>
<circle cx="2142.1" cy="1161.2" r="23.2" fill="#fff"/>
<path d="M2115.3,1174 L2115.3,1151 A27,20.3 0 0 1 2169.3,1151 L2169.5,1172 Q2167.5,1187 2147,1191.5" fill="none" stroke="#fff" stroke-width="3"/>
<path d="M2115.6,1150.2 A11.8,11.8 0 0 0 2115.6,1173.8 Z" fill="#fff"/>
<path d="M2168.8,1150.2 A11.8,11.8 0 0 1 2168.8,1173.8 Z" fill="#fff"/>
<ellipse cx="2141.2" cy="1192.1" rx="6.8" ry="4.9" transform="rotate(-8 2141.2 1192.1)" fill="#fff"/>
</svg>

</body></html>
